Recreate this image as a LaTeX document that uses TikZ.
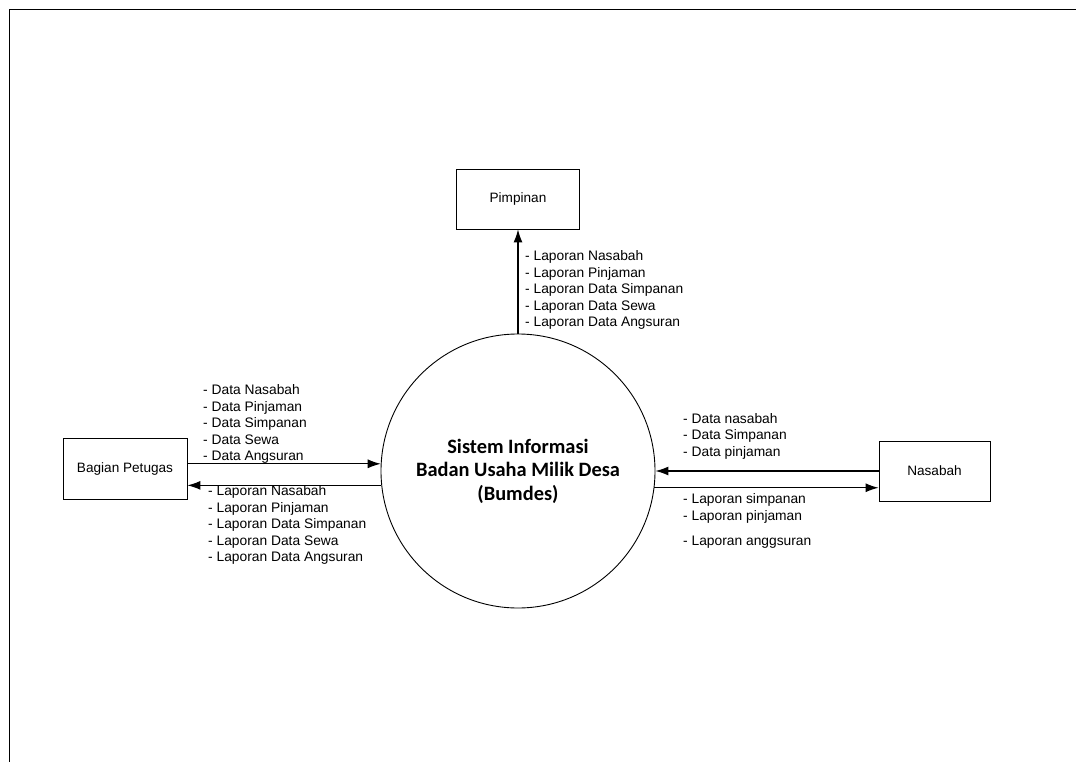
\documentclass[tikz,border=0pt]{standalone}
\usepackage{fontspec}
\setmainfont{Liberation Sans}
\newfontfamily\calfont{Carlito}
\usetikzlibrary{arrows.meta}
\begin{document}
\begin{tikzpicture}[x=1pt,y=-1pt,
  entity/.style={draw, line width=0.9pt, inner sep=0pt, font=\fontsize{13.6}{16}\selectfont},
  flow/.style={line width=1.1pt, -{Latex[length=13pt,width=9pt]}},
  lbl/.style={anchor=west, inner sep=0pt, align=left, font=\fontsize{13.8}{16.5}\selectfont}]
\useasboundingbox (0,0) rectangle (1076,762);
\draw[line width=1.5pt] (1076,9.5) -- (9.5,9.5) -- (9.5,762);
\node[circle, draw, line width=0.9pt, minimum size=274pt, inner sep=0pt, align=center,
  font=\calfont\bfseries\fontsize{20.4}{23.5}\selectfont] (sys) at (518,471)
  {Sistem Informasi\\Badan Usaha Milik Desa\\(Bumdes)};
\node[entity, minimum width=123pt, minimum height=60pt] (pim) at (518,199) {Pimpinan};
\node[entity, minimum width=124pt, minimum height=61pt] (bag) at (125,468.5) {Bagian Petugas};
\node[entity, minimum width=111pt, minimum height=60pt] (nas) at (934.5,471) {Nasabah};
\draw[flow] (sys.north) -- (pim.south);
\draw[flow] (bag.east |- sys.177) -- (sys.177);
\draw[flow] (sys.186.3) -- (bag.east |- sys.186.3);
\draw[flow] (nas.west |- sys.0.4) -- (sys.0.4);
\draw[flow] (sys.-7.5) -- (nas.west |- sys.-7.5);
\node[lbl] (lp) at (525,290) {- Laporan Nasabah\\- Laporan Pinjaman\\- Laporan Data Simpanan\\- Laporan Data Sewa\\- Laporan Data Angsuran};
\node[lbl] (lb1) at (203,424) {- Data Nasabah\\- Data Pinjaman\\- Data Simpanan\\- Data Sewa\\- Data Angsuran};
\node[lbl] (lb2) at (208,525) {- Laporan Nasabah\\- Laporan Pinjaman\\- Laporan Data Simpanan\\- Laporan Data Sewa\\- Laporan Data Angsuran};
\node[lbl] (ln1) at (683,436) {- Data nasabah\\- Data Simpanan\\- Data pinjaman};
\node[lbl] (ln2) at (683,508.5) {- Laporan simpanan\\- Laporan pinjaman};
\node[lbl] (ln3) at (683,542) {- Laporan anggsuran};
\end{tikzpicture}
\end{document}
